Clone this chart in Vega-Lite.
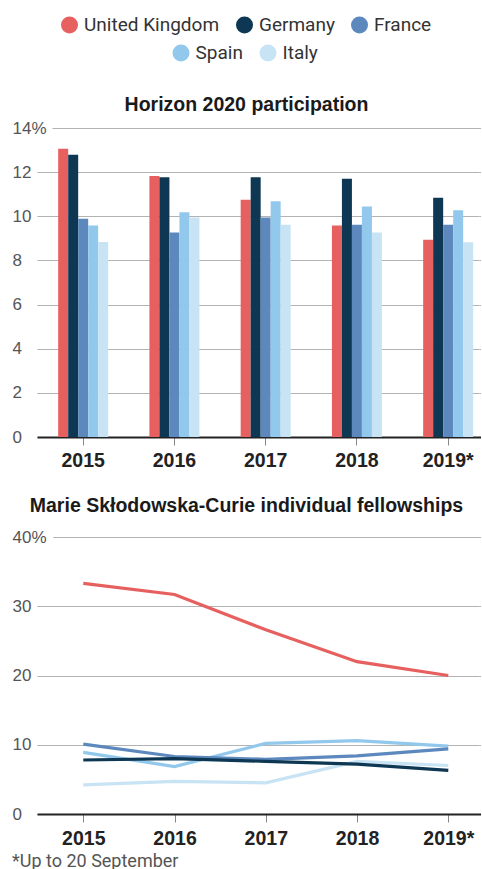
{
  "$schema": "https://vega.github.io/schema/vega-lite/v6.json",
  "background": "white",
  "padding": {"left": 12, "top": 15, "right": 0, "bottom": 0},
  "title": {"text": "*Up to 20 September", "orient": "bottom", "anchor": "start", "frame": "bounds", "font": "Roboto", "fontSize": 18, "fontWeight": "normal", "color": "#555", "offset": 5},
  "datasets": {
    "bars": [
      {"year": "2015", "country": "United Kingdom", "value": 13.06},
      {"year": "2015", "country": "Germany", "value": 12.79},
      {"year": "2015", "country": "France", "value": 9.89},
      {"year": "2015", "country": "Spain", "value": 9.58},
      {"year": "2015", "country": "Italy", "value": 8.84},
      {"year": "2016", "country": "United Kingdom", "value": 11.83},
      {"year": "2016", "country": "Germany", "value": 11.77},
      {"year": "2016", "country": "France", "value": 9.26},
      {"year": "2016", "country": "Spain", "value": 10.18},
      {"year": "2016", "country": "Italy", "value": 9.94},
      {"year": "2017", "country": "United Kingdom", "value": 10.75},
      {"year": "2017", "country": "Germany", "value": 11.77},
      {"year": "2017", "country": "France", "value": 9.95},
      {"year": "2017", "country": "Spain", "value": 10.68},
      {"year": "2017", "country": "Italy", "value": 9.62},
      {"year": "2018", "country": "United Kingdom", "value": 9.58},
      {"year": "2018", "country": "Germany", "value": 11.7},
      {"year": "2018", "country": "France", "value": 9.62},
      {"year": "2018", "country": "Spain", "value": 10.44},
      {"year": "2018", "country": "Italy", "value": 9.26},
      {"year": "2019*", "country": "United Kingdom", "value": 8.94},
      {"year": "2019*", "country": "Germany", "value": 10.84},
      {"year": "2019*", "country": "France", "value": 9.62},
      {"year": "2019*", "country": "Spain", "value": 10.27},
      {"year": "2019*", "country": "Italy", "value": 8.82}
    ],
    "lines": [
      {"year": "2015", "country": "Italy", "value": 4.2},
      {"year": "2016", "country": "Italy", "value": 4.7},
      {"year": "2017", "country": "Italy", "value": 4.5},
      {"year": "2018", "country": "Italy", "value": 7.6},
      {"year": "2019*", "country": "Italy", "value": 7.0},
      {"year": "2015", "country": "Spain", "value": 8.9},
      {"year": "2016", "country": "Spain", "value": 6.85},
      {"year": "2017", "country": "Spain", "value": 10.2},
      {"year": "2018", "country": "Spain", "value": 10.6},
      {"year": "2019*", "country": "Spain", "value": 9.8},
      {"year": "2015", "country": "France", "value": 10.1},
      {"year": "2016", "country": "France", "value": 8.3},
      {"year": "2017", "country": "France", "value": 7.9},
      {"year": "2018", "country": "France", "value": 8.4},
      {"year": "2019*", "country": "France", "value": 9.4},
      {"year": "2015", "country": "Germany", "value": 7.8},
      {"year": "2016", "country": "Germany", "value": 8.0},
      {"year": "2017", "country": "Germany", "value": 7.6},
      {"year": "2018", "country": "Germany", "value": 7.2},
      {"year": "2019*", "country": "Germany", "value": 6.3},
      {"year": "2015", "country": "United Kingdom", "value": 33.3},
      {"year": "2016", "country": "United Kingdom", "value": 31.7},
      {"year": "2017", "country": "United Kingdom", "value": 26.6},
      {"year": "2018", "country": "United Kingdom", "value": 22.0},
      {"year": "2019*", "country": "United Kingdom", "value": 20.0}
    ]
  },
  "spacing": 25,
  "vconcat": [
    {
      "title": {"text": "Horizon 2020 participation", "anchor": "middle", "frame": "bounds", "font": "Liberation Sans", "fontSize": 19.5, "fontWeight": "bold", "color": "#1a1a1a", "offset": 4},
      "width": 444,
      "height": 309,
      "data": {"name": "bars"},
      "encoding": {
        "x": {
          "field": "year", "type": "nominal", "sort": null,
          "scale": {"paddingInner": 0.452, "paddingOuter": 0.159, "align": 0.73},
          "axis": {"title": null, "labelAngle": 0, "labelFont": "Liberation Sans", "labelFontWeight": "bold", "labelFontSize": 19.5, "labelColor": "#222", "tickColor": "#888", "tickSize": 8, "tickWidth": 1, "labelPadding": 6, "domainColor": "#222", "domainWidth": 2, "grid": false}
        },
        "xOffset": {"field": "country", "type": "nominal", "sort": ["United Kingdom", "Germany", "France", "Spain", "Italy"], "scale": {"domain": ["United Kingdom", "Germany", "France", "Spain", "Italy"]}},
        "y": {
          "field": "value", "type": "quantitative",
          "scale": {"domain": [0, 14], "nice": false},
          "axis": {
            "title": null, "values": [0, 2, 4, 6, 8, 10, 12, 14], "domain": false, "ticks": false,
            "labelAlign": "left", "labelPadding": 25, "labelFont": "Liberation Sans", "labelFontSize": 17, "labelColor": "#555",
            "labelExpr": "datum.value == 14 ? '14%' : datum.label",
            "gridColor": "#b3b3b3", "gridWidth": 1.2,
            "gridDash": {"condition": {"test": "datum.value == 14", "value": [0, 15, 2000, 0]}, "value": [1, 0]}
          }
        }
      },
      "layer": [
        {
          "transform": [{"filter": {"field": "country", "oneOf": ["United Kingdom", "Germany", "France"]}}],
          "mark": {"type": "bar"},
          "encoding": {
            "color": {
              "field": "country", "type": "nominal",
              "scale": {"domain": ["United Kingdom", "Germany", "France", "Spain", "Italy"], "range": ["#e5605e", "#0d3753", "#5c88bd", "#92c8eb", "#c8e4f4"]},
              "legend": {"title": null, "orient": "none", "legendX": 23, "legendY": -112.7, "direction": "horizontal", "values": ["United Kingdom", "Germany", "France"]}
            }
          }
        },
        {
          "transform": [{"filter": {"field": "country", "oneOf": ["Spain", "Italy"]}}],
          "mark": {"type": "bar"},
          "encoding": {
            "fill": {
              "field": "country", "type": "nominal",
              "scale": {"domain": ["Spain", "Italy"], "range": ["#92c8eb", "#c8e4f4"]},
              "legend": {"title": null, "orient": "none", "legendX": 134.5, "legendY": -84.7, "direction": "horizontal"}
            }
          }
        }
      ]
    },
    {
      "title": {"text": "Marie Skłodowska-Curie individual fellowships", "anchor": "middle", "frame": "bounds", "font": "Liberation Sans", "fontSize": 19.5, "fontWeight": "bold", "color": "#1a1a1a", "offset": 12},
      "width": 444,
      "height": 277,
      "data": {"name": "lines"},
      "mark": {"type": "line", "strokeWidth": 3.2},
      "encoding": {
        "x": {
          "field": "year", "type": "ordinal", "sort": null,
          "scale": {"type": "point", "padding": 0.433, "align": 0.586},
          "axis": {"title": null, "labelAngle": 0, "labelFont": "Liberation Sans", "labelFontWeight": "bold", "labelFontSize": 19.5, "labelColor": "#222", "tickColor": "#888", "tickSize": 8, "tickWidth": 1, "labelPadding": 7, "domainColor": "#222", "domainWidth": 2, "grid": false}
        },
        "y": {
          "field": "value", "type": "quantitative",
          "scale": {"domain": [0, 40], "nice": false},
          "axis": {
            "title": null, "values": [0, 10, 20, 30, 40], "domain": false, "ticks": false,
            "labelAlign": "left", "labelPadding": 25, "labelFont": "Liberation Sans", "labelFontSize": 17, "labelColor": "#555",
            "labelExpr": "datum.value == 40 ? '40%' : datum.label",
            "gridColor": "#b3b3b3", "gridWidth": 1.2,
            "gridDash": {"condition": {"test": "datum.value == 40", "value": [0, 16, 2000, 0]}, "value": [1, 0]}
          }
        },
        "color": {"field": "country", "type": "nominal"},
        "detail": {"field": "country"},
        "order": {"field": "year"}
      }
    }
  ],
  "config": {
    "view": {"stroke": null},
    "legend": {"symbolType": "circle", "symbolSize": 290, "labelFont": "Roboto", "labelFontSize": 19, "labelColor": "#333", "columnPadding": 15, "labelOffset": 5, "symbolStrokeWidth": 0}
  }
}
